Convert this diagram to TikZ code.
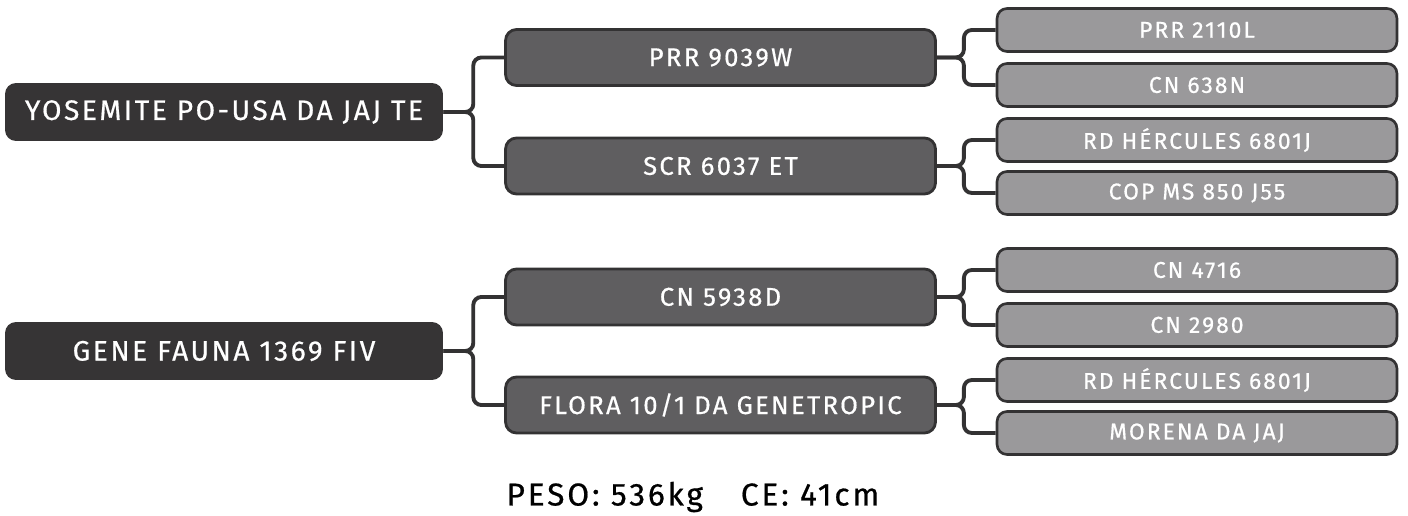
\documentclass[tikz,border=0pt]{standalone}
\usepackage{fontspec}
\setmainfont{Fira Sans}[LetterSpace=9, FakeBold=0.6]
\usepackage{xcolor}
\definecolor{pdark}{HTML}{363435}
\definecolor{pmid}{HTML}{5F5E60}
\definecolor{plight}{HTML}{9A999B}
\definecolor{pline}{HTML}{333233}
\usepackage{tikz}
\usetikzlibrary{positioning}

\begin{document}
\begin{tikzpicture}[x=0.02cm, y=-0.02cm,
    rt/.style={rectangle, rounded corners=0.22cm, minimum width=8.76cm, minimum height=1.16cm,
      fill=pdark, text=white, font=\fontsize{16}{19}\selectfont, align=center},
    md/.style={rectangle, rounded corners=0.22cm, minimum width=8.6cm, minimum height=1.12cm,
      fill=pmid, draw=pline, line width=1.6pt, text=white, font=\fontsize{14.6}{17}\selectfont, align=center},
    lf/.style={rectangle, rounded corners=0.2cm, minimum width=8.0cm, minimum height=0.86cm,
      fill=plight, draw=pline, line width=1.5pt, text=white, font=\fontsize{13}{15}\selectfont, align=center},
    lnk/.style={draw=pline, line width=2.2pt, rounded corners=0.16cm}
  ]
    \useasboundingbox (0,0) rectangle (1408,516);

    % First sire
    \node[rt] (r1) at (224,112) {YOSEMITE PO-USA DA JAJ TE};
    \node[md] (m1) at (720.5,57.5) {PRR 9039W};
    \node[md] (m2) at (720.5,166) {SCR 6037 ET};
    \node[lf] (l1) at (1197,30)  {PRR 2110L};
    \node[lf] (l2) at (1197,85)  {CN 638N};
    \node[lf] (l3) at (1197,140) {RD HÉRCULES 6801J};
    \node[lf] (l4) at (1197,193) {COP MS 850 J55};

    % Second sire
    \node[rt] (r2) at (224,351) {GENE FAUNA 1369 FIV};
    \node[md] (m3) at (720.5,297) {CN 5938D};
    \node[md] (m4) at (720.5,405) {FLORA 10/1 DA GENETROPIC};
    \node[lf] (l5) at (1197,270) {CN 4716};
    \node[lf] (l6) at (1197,325) {CN 2980};
    \node[lf] (l7) at (1197,380) {RD HÉRCULES 6801J};
    \node[lf] (l8) at (1197,433) {MORENA DA JAJ};

    % Brackets
    \path[lnk] (r1.east) -- ++(30,0) |- (m1.west);
    \path[lnk] (r1.east) -- ++(30,0) |- (m2.west);
    \path[lnk] (m1.east) -- ++(27,0) |- (l1.west);
    \path[lnk] (m1.east) -- ++(27,0) |- (l2.west);
    \path[lnk] (m2.east) -- ++(27,0) |- (l3.west);
    \path[lnk] (m2.east) -- ++(27,0) |- (l4.west);
    \path[lnk] (r2.east) -- ++(30,0) |- (m3.west);
    \path[lnk] (r2.east) -- ++(30,0) |- (m4.west);
    \path[lnk] (m3.east) -- ++(27,0) |- (l5.west);
    \path[lnk] (m3.east) -- ++(27,0) |- (l6.west);
    \path[lnk] (m4.east) -- ++(27,0) |- (l7.west);
    \path[lnk] (m4.east) -- ++(27,0) |- (l8.west);

    % Footer
    \node[font=\fontsize{18}{21}\selectfont, text=black] (ft) at (693,497) {PESO: 536kg\hspace{1.2em}CE: 41cm};
\end{tikzpicture}
\end{document}
